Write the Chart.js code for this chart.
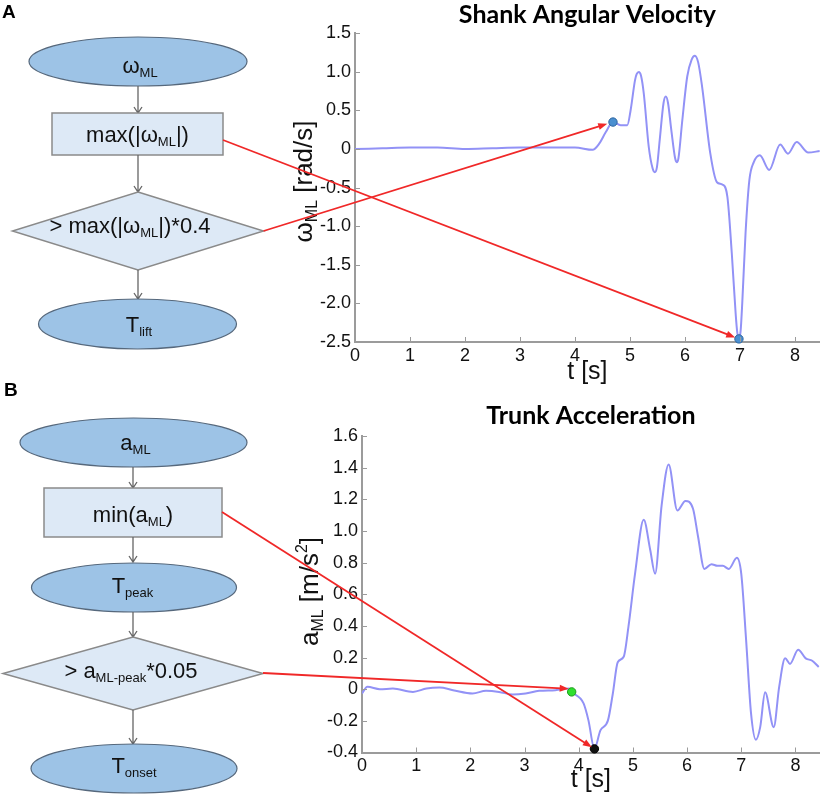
<!DOCTYPE html>
<html>
<head>
<meta charset="utf-8">
<title>Shank angular velocity / trunk acceleration</title>
<script src="https://cdn.jsdelivr.net/npm/chart.js@4.4.1/dist/chart.umd.min.js"></script>
<style>
    html, body { margin: 0; padding: 0; background: #fff; }
    #figure { position: relative; width: 825px; height: 796px; overflow: hidden; }
    #figure canvas { position: absolute; }
    #shankChart { left: 280px; top: 0; }
    #trunkChart { left: 280px; top: 395px; }
    #overlay { left: 0; top: 0; pointer-events: none; }
</style>
</head>
<body>
<div id="figure">
    <canvas id="shankChart" width="545" height="395"></canvas>
    <canvas id="trunkChart" width="545" height="401"></canvas>
    <canvas id="overlay" width="825" height="796"></canvas>
</div>
<script>
// Panel A - shank angular velocity (rad/s)
const shankTime = [0, 0.5, 1.0, 1.5, 2.0, 2.5, 3.0, 3.5, 4.0, 4.32, 4.44, 4.56, 4.69, 4.83, 4.95,
    5.01, 5.09, 5.12, 5.16, 5.20, 5.25, 5.34, 5.41, 5.45, 5.49, 5.54, 5.61, 5.65, 5.69, 5.75, 5.82, 5.85, 5.88, 5.95,
    6.04, 6.12, 6.18, 6.24, 6.31, 6.46, 6.58, 6.68, 6.77, 6.85, 6.92, 6.95, 6.98, 7.01,
    7.04, 7.10, 7.17, 7.25, 7.36, 7.53, 7.73, 7.87, 8.03, 8.24, 8.45];
const shankOmega = [0, 0.01, 0.02, 0.02, 0, 0.01, 0.02, 0.02, 0.02, -0.01, 0.07, 0.22, 0.35, 0.31, 0.31,
    0.50, 0.89, 0.97, 1.00, 0.95, 0.72, 0.03, -0.25, -0.30, -0.23, 0.12, 0.60, 0.68, 0.60, 0.25, -0.12, -0.17, -0.12, 0.37,
    0.94, 1.16, 1.21, 1.12, 0.81, -0.06, -0.43, -0.46, -0.62, -1.35, -2.13, -2.38, -2.46, -2.36,
    -2.00, -1.09, -0.40, -0.17, -0.08, -0.27, 0.06, -0.06, 0.09, -0.045, -0.025];
// lift threshold point, then max(|w|)
const shankMarkTime = [4.69, 6.98];
const shankMarkValue = [0.35, -2.46];
const shankTicks = [-2.5, -2, -1.5, -1, -0.5, 0, 0.5, 1, 1.5];

// Panel B - trunk acceleration (m/s^2)
const trunkTime = [0, 0.1, 0.33, 0.57, 0.94, 1.19, 1.43, 1.68, 2.04, 2.29,
    2.53, 2.78, 3.02, 3.27, 3.57, 3.82, 3.87, 4.09, 4.18, 4.29,
    4.40, 4.54, 4.63, 4.72, 4.83, 4.92, 5.04, 5.20, 5.32, 5.41,
    5.53, 5.66, 5.82, 5.97, 6.11, 6.20, 6.32, 6.45, 6.56, 6.66,
    6.77, 6.92, 7.00, 7.09, 7.18, 7.27, 7.35, 7.44, 7.60, 7.70,
    7.81, 7.90, 8.05, 8.19, 8.31, 8.43];
const trunkAcc = [-0.027, 0.015, 0, 0.004, -0.017, 0.004, 0.01, -0.006, -0.027, -0.01,
    -0.017, -0.034, -0.027, -0.01, -0.006, 0.005, -0.017, -0.09, -0.197, -0.377,
    -0.26, -0.197, -0.027, 0.17, 0.205, 0.40, 0.73, 1.07, 0.88, 0.73,
    1.16, 1.42, 1.13, 1.19, 1.14, 0.97, 0.76, 0.79, 0.78, 0.78,
    0.76, 0.83, 0.73, 0.31, -0.15, -0.32, -0.24, -0.02, -0.24, 0.015,
    0.195, 0.16, 0.25, 0.195, 0.18, 0.14];
// onset point, then peak (minimum)
const trunkMarkTime = [3.87, 4.29];
const trunkMarkValue = [-0.017, -0.377];
const trunkTicks = [-0.4, -0.2, 0, 0.2, 0.4, 0.6, 0.8, 1.0, 1.2, 1.4, 1.6];

const timeTicks = [0, 1, 2, 3, 4, 5, 6, 7, 8];

const AXIS_GREY = '#9b9b9b';
const TRACE_BLUE = '#9292f6';
const ARIAL = '"Liberation Sans", Arial, sans-serif';

function tickLabel(value) {
    return value === 0 ? '0' : value.toFixed(1);
}

function toPoints(xs, ys) {
    return xs.map((x, i) => ({ x: x, y: ys[i] }));
}

// matlab style ticks pointing into the plot
const innerTicks = {
    id: 'innerTicks',
    afterDraw(chart) {
        const { ctx, chartArea } = chart;
        const xs = chart.scales.x;
        const ys = chart.scales.y;
        ctx.save();
        ctx.strokeStyle = AXIS_GREY;
        ctx.lineWidth = 1;
        ctx.beginPath();
        xs.ticks.forEach(t => {
            const px = Math.round(xs.getPixelForValue(t.value)) + 0.5;
            ctx.moveTo(px, chartArea.bottom);
            ctx.lineTo(px, chartArea.bottom - 5);
        });
        ys.ticks.forEach(t => {
            const py = Math.round(ys.getPixelForValue(t.value)) + 0.5;
            ctx.moveTo(chartArea.left, py);
            ctx.lineTo(chartArea.left + 5, py);
        });
        ctx.stroke();
        ctx.restore();
    }
};

// text with sub/superscripts, centred on cx
function richText(ctx, parts, cx, baseline, size) {
    const small = Math.round(size * 0.6);
    const fontFor = p => (p.sub || p.sup ? small : size) + 'px ' + ARIAL;
    const widths = parts.map(p => {
        ctx.font = fontFor(p);
        return ctx.measureText(p.t).width;
    });
    let x = cx - widths.reduce((a, b) => a + b, 0) / 2;
    ctx.textAlign = 'left';
    ctx.textBaseline = 'alphabetic';
    parts.forEach((p, i) => {
        ctx.font = fontFor(p);
        const dy = p.sub ? size * 0.2 : (p.sup ? -size * 0.42 : 0);
        ctx.fillText(p.t, x, baseline + dy);
        x += widths[i];
    });
}

class FigureManager {
    constructor() {
        this.charts = {};
        this.init();
    }

    init() {
        this.initShankChart();
        this.initTrunkChart();
        this.drawOverlay();
    }

    buildChart(id, cfg) {
        return new Chart(document.getElementById(id), {
            type: 'line',
            data: {
                datasets: [{
                    data: toPoints(cfg.time, cfg.values),
                    borderColor: TRACE_BLUE,
                    borderWidth: 2,
                    pointRadius: 0,
                    cubicInterpolationMode: 'monotone',
                    order: 2
                }, {
                    type: 'scatter',
                    data: toPoints(cfg.markTime, cfg.markValue),
                    pointRadius: 4.2,
                    backgroundColor: cfg.markFill,
                    borderColor: cfg.markEdge,
                    borderWidth: 1,
                    clip: false,
                    order: 1
                }]
            },
            options: {
                responsive: false,
                animation: false,
                events: [],
                layout: { padding: cfg.padding },
                plugins: {
                    legend: { display: false },
                    tooltip: { enabled: false },
                    title: {
                        display: true,
                        text: cfg.title,
                        fullSize: false,
                        color: '#000',
                        font: { family: 'Lato', size: 25, weight: 'bold', lineHeight: 1.2 },
                        padding: cfg.titlePadding
                    }
                },
                scales: {
                    x: {
                        type: 'linear',
                        min: 0,
                        max: 8.45,
                        afterBuildTicks: s => { s.ticks = timeTicks.map(v => ({ value: v })); },
                        afterFit: s => { s.height = cfg.xHeight; },
                        grid: { display: false, drawTicks: false },
                        border: { color: AXIS_GREY, width: 2 },
                        ticks: {
                            padding: 3,
                            color: '#111',
                            maxRotation: 0,
                            autoSkip: false,
                            font: { family: ARIAL, size: 18 }
                        },
                        title: {
                            display: true,
                            text: 't [s]',
                            color: '#111',
                            font: { family: ARIAL, size: 25, lineHeight: 1.2 },
                            padding: { top: 0, bottom: cfg.xTitlePad }
                        }
                    },
                    y: {
                        min: cfg.ticks[0],
                        max: cfg.ticks[cfg.ticks.length - 1],
                        afterBuildTicks: s => { s.ticks = cfg.ticks.map(v => ({ value: v })); },
                        afterFit: s => { s.width = cfg.yWidth; },
                        grid: { display: false, drawTicks: false },
                        border: { color: AXIS_GREY, width: 2 },
                        ticks: {
                            padding: 4,
                            color: '#111',
                            autoSkip: false,
                            font: { family: ARIAL, size: 18 },
                            callback: tickLabel
                        }
                    }
                }
            },
            plugins: [innerTicks]
        });
    }

    initShankChart() {
        this.charts.shank = this.buildChart('shankChart', {
            title: 'Shank Angular Velocity',
            time: shankTime,
            values: shankOmega,
            markTime: shankMarkTime,
            markValue: shankMarkValue,
            markFill: '#4a8fd0',
            markEdge: '#2f66a0',
            ticks: shankTicks,
            padding: { top: 0, right: 3, bottom: 8, left: 0 },
            titlePadding: { top: 0, bottom: 3.3 },
            xHeight: 45,
            xTitlePad: 0,
            yWidth: 75
        });
    }

    initTrunkChart() {
        this.charts.trunk = this.buildChart('trunkChart', {
            title: 'Trunk Acceleration',
            time: trunkTime,
            values: trunkAcc,
            markTime: trunkMarkTime,
            markValue: trunkMarkValue,
            markFill: ['#2fe02f', '#111111'],
            markEdge: ['#1a9a1a', '#000000'],
            ticks: trunkTicks,
            padding: { top: 6, right: 3, bottom: 0, left: 0 },
            titlePadding: { top: 0, bottom: 5 },
            xHeight: 43.5,
            xTitlePad: 0.5,
            yWidth: 82
        });
    }

    // page coordinates of a data point of one of the charts
    pagePoint(chart, t, v) {
        const c = chart.canvas;
        return {
            x: chart.scales.x.getPixelForValue(t) + c.offsetLeft,
            y: chart.scales.y.getPixelForValue(v) + c.offsetTop
        };
    }

    drawOverlay() {
        const ctx = document.getElementById('overlay').getContext('2d');
        ctx.fillStyle = '#000';

        // panel letters
        ctx.font = 'bold 19px ' + ARIAL;
        ctx.textAlign = 'left';
        ctx.textBaseline = 'alphabetic';
        ctx.fillText('A', 2, 18);
        ctx.fillText('B', 4, 396);

        this.drawFlowA(ctx);
        this.drawFlowB(ctx);

        // y axis titles
        ctx.save();
        ctx.fillStyle = '#111';
        ctx.translate(311.5, 181.5);
        ctx.rotate(-Math.PI / 2);
        richText(ctx, [{ t: 'ω' }, { t: 'ML', sub: true }, { t: ' [rad/s]' }], 0, 0, 26);
        ctx.restore();

        ctx.save();
        ctx.fillStyle = '#111';
        ctx.translate(318, 591.5);
        ctx.rotate(-Math.PI / 2);
        richText(ctx, [{ t: 'a' }, { t: 'ML', sub: true }, { t: ' [m/s' }, { t: '2', sup: true }, { t: ']' }], 0, 0, 26);
        ctx.restore();

        // red arrows from the flowchart steps to the detected points
        const shank = this.charts.shank;
        const trunk = this.charts.trunk;
        const liftPt = this.pagePoint(shank, shankMarkTime[0], shankMarkValue[0]);
        const maxPt = this.pagePoint(shank, shankMarkTime[1], shankMarkValue[1]);
        const onsetPt = this.pagePoint(trunk, trunkMarkTime[0], trunkMarkValue[0]);
        const peakPt = this.pagePoint(trunk, trunkMarkTime[1], trunkMarkValue[1]);

        this.redArrow(ctx, 223, 140, maxPt.x, maxPt.y, 4);
        this.redArrow(ctx, 263.5, 231, liftPt.x, liftPt.y, 6);
        this.redArrow(ctx, 222, 512, peakPt.x, peakPt.y, 3);
        this.redArrow(ctx, 263, 673, onsetPt.x, onsetPt.y - 3, 3);
    }

    drawFlowA(ctx) {
        this.ellipse(ctx, 138, 61.5, 109, 24.5);
        this.connector(ctx, 138, 86, 113);
        this.box(ctx, 52, 113, 171, 42);
        this.connector(ctx, 138, 155, 192);
        this.diamond(ctx, 138, 231, 125.5, 39);
        this.connector(ctx, 138, 270, 299);
        this.ellipse(ctx, 137.5, 324, 99, 25);

        ctx.fillStyle = '#111';
        richText(ctx, [{ t: 'ω' }, { t: 'ML', sub: true }], 140, 73, 22);
        richText(ctx, [{ t: 'max(|ω' }, { t: 'ML', sub: true }, { t: '|)' }], 137.5, 141.5, 22);
        richText(ctx, [{ t: '> max(|ω' }, { t: 'ML', sub: true }, { t: '|)*0.4' }], 130, 233, 22);
        richText(ctx, [{ t: 'T' }, { t: 'lift', sub: true }], 139, 332, 22);
    }

    drawFlowB(ctx) {
        this.ellipse(ctx, 133.5, 442.5, 113.5, 24.5);
        this.connector(ctx, 133, 467, 488);
        this.box(ctx, 44, 488, 178, 49);
        this.connector(ctx, 133, 537, 562);
        this.ellipse(ctx, 134, 587.5, 102.5, 24.5);
        this.connector(ctx, 133, 612, 637);
        this.diamond(ctx, 133, 673.5, 130, 36.5);
        this.connector(ctx, 133, 710, 744);
        this.ellipse(ctx, 134, 768.5, 103, 24.5);

        ctx.fillStyle = '#111';
        richText(ctx, [{ t: 'a' }, { t: 'ML', sub: true }], 135.5, 450, 22);
        richText(ctx, [{ t: 'min(a' }, { t: 'ML', sub: true }, { t: ')' }], 133, 522, 22);
        richText(ctx, [{ t: 'T' }, { t: 'peak', sub: true }], 132.5, 593, 22);
        richText(ctx, [{ t: '> a' }, { t: 'ML-peak', sub: true }, { t: '*0.05' }], 131, 678, 22);
        richText(ctx, [{ t: 'T' }, { t: 'onset', sub: true }], 134, 773, 22);
    }

    ellipse(ctx, cx, cy, rx, ry) {
        ctx.beginPath();
        ctx.ellipse(cx, cy, rx, ry, 0, 0, Math.PI * 2);
        ctx.fillStyle = '#9dc3e6';
        ctx.fill();
        ctx.strokeStyle = '#56687c';
        ctx.lineWidth = 1.2;
        ctx.stroke();
    }

    box(ctx, x, y, w, h) {
        ctx.fillStyle = '#dde9f6';
        ctx.fillRect(x, y, w, h);
        ctx.strokeStyle = '#8a8a8a';
        ctx.lineWidth = 1.5;
        ctx.strokeRect(x, y, w, h);
    }

    diamond(ctx, cx, cy, hw, hh) {
        ctx.beginPath();
        ctx.moveTo(cx, cy - hh);
        ctx.lineTo(cx + hw, cy);
        ctx.lineTo(cx, cy + hh);
        ctx.lineTo(cx - hw, cy);
        ctx.closePath();
        ctx.fillStyle = '#dde9f6';
        ctx.fill();
        ctx.strokeStyle = '#8a8a8a';
        ctx.lineWidth = 1.5;
        ctx.stroke();
    }

    connector(ctx, x, y1, y2) {
        ctx.strokeStyle = '#666';
        ctx.lineWidth = 1.3;
        ctx.beginPath();
        ctx.moveTo(x, y1);
        ctx.lineTo(x, y2);
        ctx.moveTo(x - 4, y2 - 6);
        ctx.lineTo(x, y2);
        ctx.lineTo(x + 4, y2 - 6);
        ctx.stroke();
    }

    redArrow(ctx, x1, y1, x2, y2, gap) {
        const a = Math.atan2(y2 - y1, x2 - x1);
        const cos = Math.cos(a);
        const sin = Math.sin(a);
        const tipX = x2 - gap * cos;
        const tipY = y2 - gap * sin;
        const len = 9;
        const half = 3.5;
        ctx.strokeStyle = '#f02828';
        ctx.fillStyle = '#f02828';
        ctx.lineWidth = 1.8;
        ctx.beginPath();
        ctx.moveTo(x1, y1);
        ctx.lineTo(tipX - (len - 2) * cos, tipY - (len - 2) * sin);
        ctx.stroke();
        ctx.beginPath();
        ctx.moveTo(tipX, tipY);
        ctx.lineTo(tipX - len * cos + half * sin, tipY - len * sin - half * cos);
        ctx.lineTo(tipX - len * cos - half * sin, tipY - len * sin + half * cos);
        ctx.closePath();
        ctx.fill();
    }
}

document.addEventListener('DOMContentLoaded', () => {
    new FigureManager();
});
</script>
</body>
</html>
